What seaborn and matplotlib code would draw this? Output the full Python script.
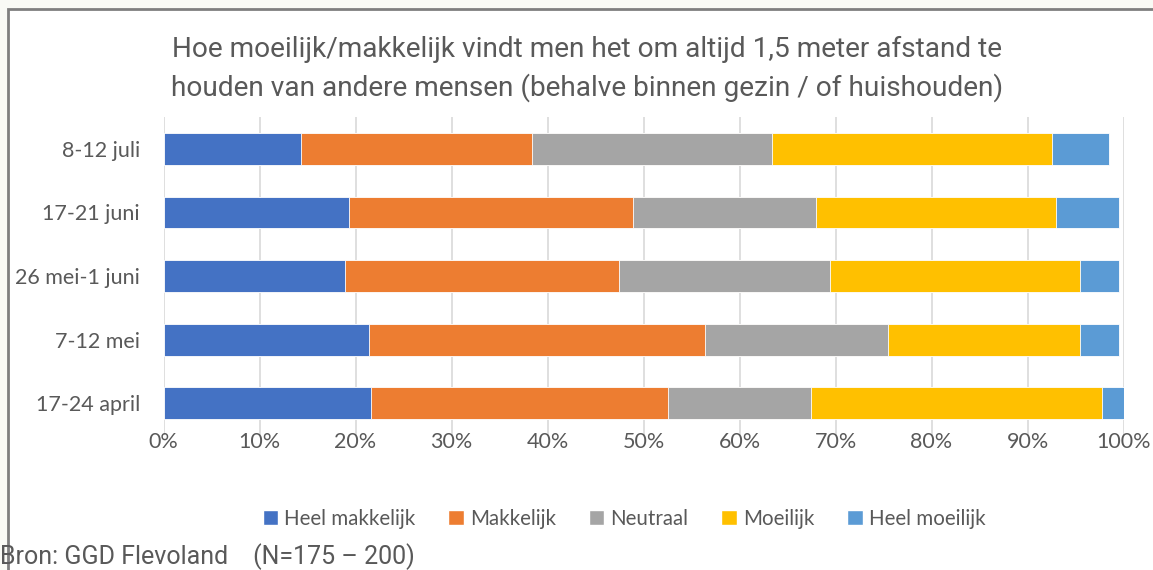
import matplotlib
matplotlib.use("Agg")
import matplotlib.pyplot as plt
import matplotlib.patches as mpatches
from matplotlib.ticker import FuncFormatter
import numpy as np
import pandas as pd
import seaborn as sns

# periods (top to bottom) and answer categories
periods = ['8-12 juli', '17-21 juni', '26 mei-1 juni', '7-12 mei', '17-24 april']
answers = ['Heel makkelijk', 'Makkelijk', 'Neutraal', 'Moeilijk', 'Heel moeilijk']

# percentages per answer, in the order of periods
heel_makkelijk = [14.3, 19.3, 18.9, 21.4, 21.6]
makkelijk = [24.1, 29.6, 28.5, 35.0, 30.9]
neutraal = [25.0, 19.1, 22.0, 19.1, 14.9]
moeilijk = [29.1, 25.0, 26.1, 20.0, 30.4]
heel_moeilijk = [6.0, 6.5, 4.0, 4.0, 2.2]

colors = ['#4472C4', '#ED7D31', '#A5A5A5', '#FFC000', '#5B9BD5']
text_color = '#595959'

df = pd.DataFrame({'period': periods,
                   'Heel makkelijk': heel_makkelijk,
                   'Makkelijk': makkelijk,
                   'Neutraal': neutraal,
                   'Moeilijk': moeilijk,
                   'Heel moeilijk': heel_moeilijk})
cum = df[answers].cumsum(axis=1)
cum['period'] = df['period']

sns.set_theme(style='white')
plt.rcParams['font.family'] = ['Lato', 'DejaVu Sans']

fig = plt.figure(figsize=(11.53, 5.70), dpi=100, facecolor='#F9FAF5')
# white chart area with grey frame
fig.patches.append(mpatches.Rectangle((8 / 1153, -0.1), 1.2, 1 - 8.5 / 570 + 0.1,
                                      transform=fig.transFigure, facecolor='white',
                                      edgecolor='#7F7F7F', linewidth=2, zorder=-10))

ax = fig.add_axes([163.5 / 1153, 1 - 435 / 570, 960 / 1153, 318 / 570])
ax.set_facecolor('none')

# stacked bars: draw cumulative totals from the last answer to the first
for ans, col in reversed(list(zip(answers, colors))):
    sns.barplot(data=cum, x=ans, y='period', order=periods, color=col,
                width=0.5, saturation=1, edgecolor='white', linewidth=0.6, ax=ax)

ax.set_xlim(0, 100)
ax.set_ylim(4.5, -0.5)
ax.set_xticks(np.arange(0, 101, 10))
ax.xaxis.set_major_formatter(FuncFormatter(lambda v, p: f'{v:.0f}%'))
ax.grid(axis='x', color='#D9D9D9', linewidth=1.2)
ax.set_axisbelow(True)
for s in ax.spines.values():
    s.set_visible(False)
ax.set_xlabel('')
ax.set_ylabel('')
ax.tick_params(axis='x', labelsize=15.5, colors=text_color, pad=-2, length=0)
ax.tick_params(axis='y', labelsize=15.5, colors=text_color, pad=17, length=0)

fig.text(587 / 1153, 1 - 69 / 570,
         'Hoe moeilijk/makkelijk vindt men het om altijd 1,5 meter afstand te\n'
         'houden van andere mensen (behalve binnen gezin / of huishouden)',
         ha='center', va='center', fontsize=20.2, color=text_color,
         linespacing=1.45, family=['Roboto', 'DejaVu Sans'])

handles = [mpatches.Patch(facecolor=c, label=a) for a, c in zip(answers, colors)]
fig.legend(handles=handles, loc='center', bbox_to_anchor=(624 / 1153, 1 - 519 / 570),
           ncol=5, frameon=False, fontsize=14.8, labelcolor=text_color,
           handlelength=0.75, handleheight=0.75, handletextpad=0.3, columnspacing=1.6)

fig.text(0, 1 - 557 / 570, 'Bron: GGD Flevoland    (N=175 – 200)',
         ha='left', va='center', fontsize=18, color=text_color,
         family=['Roboto', 'DejaVu Sans'])

fig.savefig('out.png', dpi=100, facecolor=fig.get_facecolor())
